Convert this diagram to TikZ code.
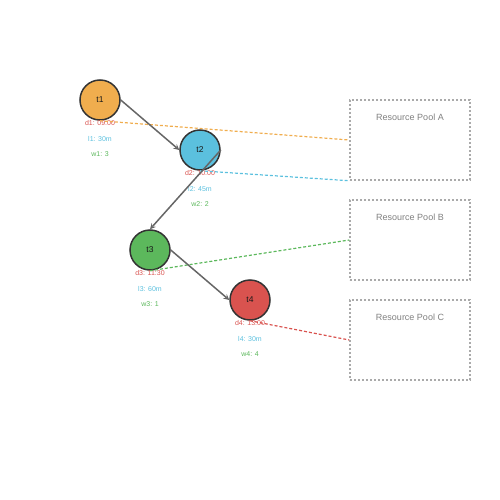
\documentclass[tikz,border=0pt]{standalone}
\usepackage{fontspec}
\setmainfont{Liberation Sans}
\usetikzlibrary{positioning}

\definecolor{taskorange}{HTML}{F0AD4E}
\definecolor{taskblue}{HTML}{5BC0DE}
\definecolor{taskgreen}{HTML}{5CB85C}
\definecolor{taskred}{HTML}{D9534F}
\definecolor{edgegray}{HTML}{666666}
\definecolor{poolgray}{HTML}{AAAAAA}

\tikzset{
    task/.style={circle, draw=black!80, line width=1.5pt, minimum size=40pt, inner sep=0pt, font=\fontsize{8.5}{10}\selectfont, text=black!90},
    info/.style={inner sep=0pt, font=\fontsize{7}{8}\selectfont},
    pool/.style={draw=poolgray, line width=1.5pt, dash pattern=on 2pt off 2pt, minimum width=120pt, minimum height=80pt, inner sep=0pt},
    poollabel/.style={inner sep=0pt, text=black!50, font=\fontsize{9}{10}\selectfont},
    dep/.style={->, >=stealth, edgegray, line width=1.5pt},
    alloc/.style={line width=1.2pt, dash pattern=on 3pt off 2pt},
}

\begin{document}
\begin{tikzpicture}[x=1pt, y=-1pt]

    % Canvas
    \useasboundingbox (0,0) rectangle (500,500);

    % Resource pools
    \foreach \p/\y in {A/140, B/240, C/340}{
        \node[pool] (pool\p) at (410, \y) {};
        \node[poollabel] (pool\p label) at (410, \y-23) {Resource Pool \p};
    }

    % Tasks
    \node[task, fill=taskorange] (t1) at (100, 100) {t1};
    \node[task, fill=taskblue]   (t2) at (200, 150) {t2};
    \node[task, fill=taskgreen]  (t3) at (150, 250) {t3};
    \node[task, fill=taskred]    (t4) at (250, 300) {t4};

    % Task data
    \foreach \t/\d/\l/\w in {1/09:00/30m/3, 2/10:00/45m/2, 3/11:30/60m/1, 4/13:00/30m/4}{
        \node[info, text=taskred,   below=-1pt of t\t]  (d\t) {d\t: \d};
        \node[info, text=taskblue,  below=11pt of d\t] (l\t) {l\t: \l};
        \node[info, text=taskgreen, below=10pt of l\t] (w\t) {w\t: \w};
    }

    % Allocation to pools
    \draw[alloc, taskorange] (t1.south) -- (poolA.west);
    \draw[alloc, taskblue]   (t2.south) -- (poolA.south west);
    \draw[alloc, taskgreen]  (t3.south) -- (poolB.west);
    \draw[alloc, taskred]    (t4.south) -- (poolC.west);

    % Dependencies
    \draw[dep] (t1.east) -- (t2.west);
    \draw[dep] (t2.east) -- (t3.north);
    \draw[dep] (t3.east) -- (t4.west);

\end{tikzpicture}
\end{document}
